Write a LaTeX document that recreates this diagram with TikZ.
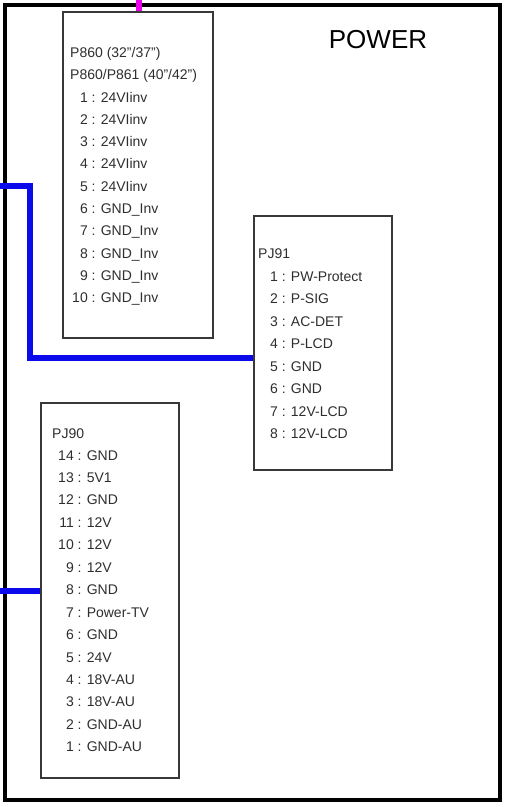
\documentclass[tikz,border=0pt]{standalone}
\usepackage{fontspec}
\setmainfont{Liberation Sans}
\usetikzlibrary{calc,positioning}
\definecolor{wireB}{RGB}{10,10,235}
\definecolor{wireM}{RGB}{235,0,235}
\colorlet{pinT}{black!82}
\newcommand{\pinno}[1]{\makebox[15.6pt][r]{#1}}

\begin{document}
\begin{tikzpicture}[x=1pt,y=-1pt,
    frame/.style={draw=black, line width=3.4pt},
    connbox/.style={draw=black!78, line width=1.8pt, inner sep=0pt},
    pin/.style={anchor=base west, inner sep=0pt, text=pinT, font=\fontsize{14}{16}\selectfont},
    bus/.style={line width=6pt}]
        \useasboundingbox (0,0) rectangle (508,807);
        % Outer power board frame
        \draw[frame] (5,5) rectangle (500,800);
        \node[font=\fontsize{26}{30}\selectfont] (title) at (378,40) {POWER};
        % Connector boxes
        \node[connbox, minimum width=150pt, minimum height=326pt] (p860) at (138,175) {};
        \node[connbox, minimum width=138pt, minimum height=254pt] (pj91) at (323,343) {};
        \node[connbox, minimum width=138pt, minimum height=375pt] (pj90) at (110,590.5) {};
        % P860 pin list
        \node[pin] (p860-h1) at (70,57) {P860 (32"/37")};
        \node[pin] (p860-h2) at (70,79) {P860/P861 (40"/42")};
        \foreach \lab [count=\i] in {24VIinv,24VIinv,24VIinv,24VIinv,24VIinv,
            GND\_Inv,GND\_Inv,GND\_Inv,GND\_Inv,GND\_Inv}
          \node[pin] (p860-\i) at (72,{102+22.3*(\i-1)}) {\pinno{\i} : \lab};
        % PJ91 pin list
        \node[pin] (pj91-h) at (258,258) {PJ91};
        \foreach \lab [count=\i] in {PW-Protect,P-SIG,AC-DET,P-LCD,GND,GND,12V-LCD,12V-LCD}
          \node[pin] (pj91-\i) at (262.2,{281+22.5*(\i-1)}) {\pinno{\i} : \lab};
        % PJ90 pin list
        \node[pin] (pj90-h) at (52,438) {PJ90};
        \foreach \n/\lab [count=\i] in {14/GND,13/5V1,12/GND,11/12V,10/12V,9/12V,8/GND,
            7/Power-TV,6/GND,5/24V,4/18V-AU,3/18V-AU,2/GND-AU,1/GND-AU}
          \node[pin] (pj90-\n) at (58,{460+22.45*(\i-1)}) {\pinno{\n} : \lab};
        % Wires leaving the board
        \coordinate (inA) at (0,185.5);
        \coordinate (bendA) at (29.5,357.5);
        \coordinate (inB) at (0,590.5);
        \coordinate (inC) at (138.5,0);
        \draw[bus, wireB] (inA) -| (bendA) -- (bendA -| pj91.west);
        \draw[bus, wireB] (inB) -- (inB -| pj90.west);
        \draw[bus, wireM] (inC) -- (inC |- p860.north);
      \end{tikzpicture}
\end{document}
